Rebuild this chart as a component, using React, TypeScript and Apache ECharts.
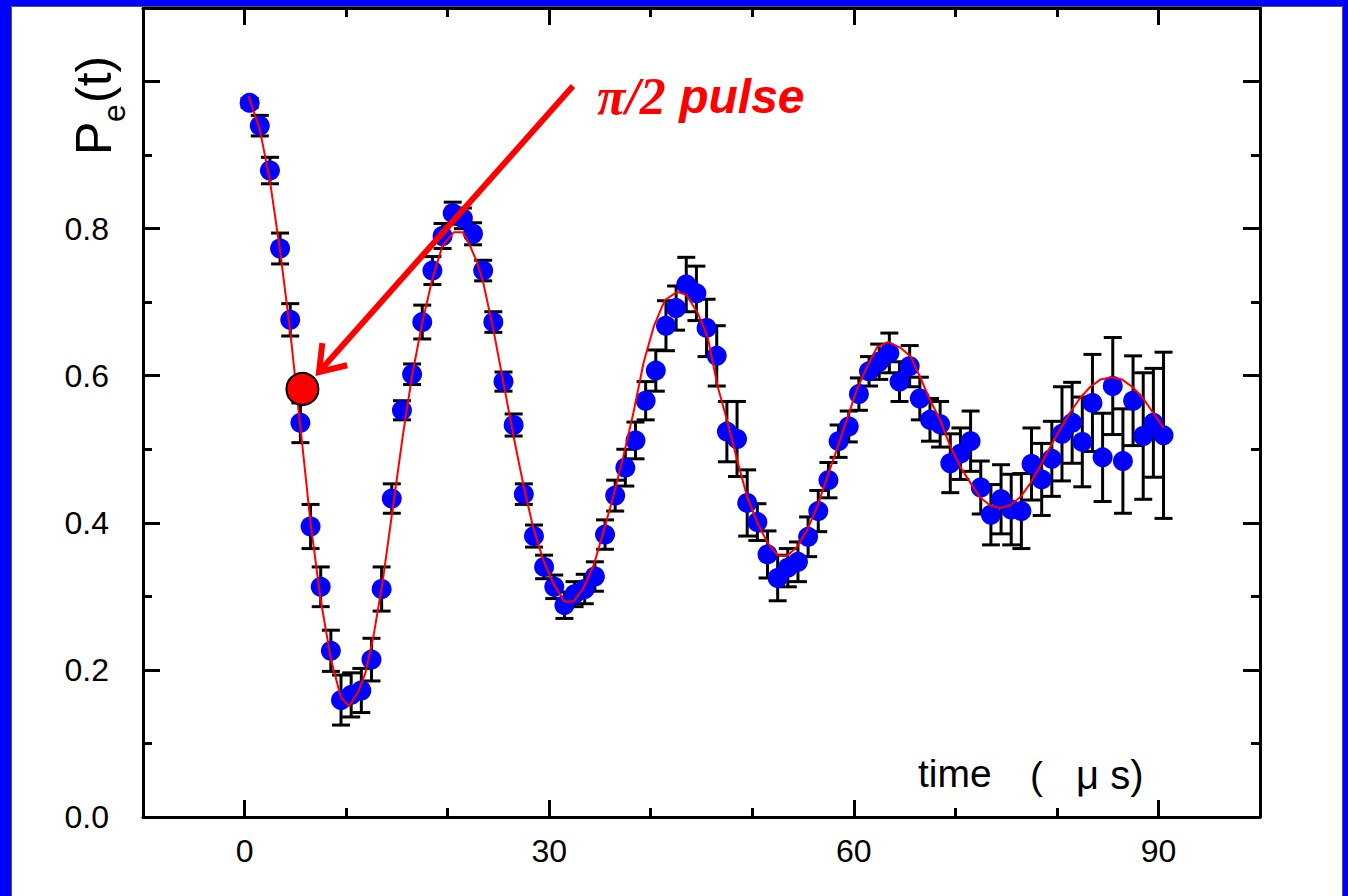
import React, { useEffect, useRef } from "react";
import * as echarts from "echarts";

// ---- data ----
const times = [
  0.5, 1.5, 2.5, 3.5, 4.5, 5.5, 6.5, 7.5, 8.5, 9.5,
  10.5, 11.5, 12.5, 13.5, 14.5, 15.5, 16.5, 17.5, 18.5, 19.5,
  20.5, 21.5, 22.5, 23.5, 24.5, 25.5, 26.5, 27.5, 28.5, 29.5,
  30.5, 31.5, 32.5, 33.5, 34.5, 35.5, 36.5, 37.5, 38.5, 39.5,
  40.5, 41.5, 42.5, 43.5, 44.5, 45.5, 46.5, 47.5, 48.5, 49.5,
  50.5, 51.5, 52.5, 53.5, 54.5, 55.5, 56.5, 57.5, 58.5, 59.5,
  60.5, 61.5, 62.5, 63.5, 64.5, 65.5, 66.5, 67.5, 68.5, 69.5,
  70.5, 71.5, 72.5, 73.5, 74.5, 75.5, 76.5, 77.5, 78.5, 79.5,
  80.5, 81.5, 82.5, 83.5, 84.5, 85.5, 86.5, 87.5, 88.5, 89.5,
  90.5,
];

const pe = [
  0.971, 0.940, 0.879, 0.773, 0.676, 0.536, 0.395, 0.313, 0.226, 0.159,
  0.166, 0.172, 0.214, 0.310, 0.433, 0.553, 0.602, 0.673, 0.743, 0.790,
  0.821, 0.814, 0.793, 0.743, 0.673, 0.592, 0.533, 0.439, 0.382, 0.340,
  0.313, 0.288, 0.303, 0.310, 0.327, 0.384, 0.437, 0.475, 0.512, 0.566,
  0.607, 0.668, 0.692, 0.724, 0.712, 0.665, 0.627, 0.524, 0.514, 0.427,
  0.401, 0.357, 0.325, 0.339, 0.347, 0.381, 0.416, 0.458, 0.511, 0.531,
  0.575, 0.606, 0.619, 0.631, 0.592, 0.613, 0.569, 0.540, 0.534, 0.481,
  0.494, 0.511, 0.448, 0.411, 0.432, 0.418, 0.416, 0.480, 0.459, 0.487,
  0.521, 0.536, 0.510, 0.563, 0.489, 0.586, 0.484, 0.566, 0.518, 0.536,
  0.519,
];

const peErr = [
  0.006, 0.014, 0.018, 0.021, 0.022, 0.027, 0.030, 0.027, 0.028, 0.034,
  0.030, 0.030, 0.029, 0.030, 0.020, 0.013, 0.014, 0.023, 0.019, 0.017,
  0.015, 0.014, 0.015, 0.014, 0.014, 0.013, 0.015, 0.014, 0.015, 0.016,
  0.016, 0.018, 0.017, 0.020, 0.020, 0.020, 0.021, 0.025, 0.025, 0.026,
  0.028, 0.034, 0.030, 0.037, 0.037, 0.039, 0.041, 0.041, 0.051, 0.045,
  0.025, 0.032, 0.031, 0.026, 0.027, 0.027, 0.028, 0.024, 0.022, 0.021,
  0.022, 0.020, 0.024, 0.027, 0.027, 0.028, 0.029, 0.029, 0.031, 0.040,
  0.035, 0.041, 0.036, 0.041, 0.047, 0.048, 0.051, 0.049, 0.049, 0.051,
  0.064, 0.055, 0.061, 0.066, 0.060, 0.066, 0.071, 0.061, 0.086, 0.074,
  0.113,
];

const fitTimes = [
  0.4, 1.5, 2.5, 3.5, 4.5, 5.5, 6.5, 7.5, 8.5, 9.5,
  10.3, 11.2, 11.9, 12.7, 13.6, 14.6, 15.6, 16.5, 17.5, 18.5,
  19.5, 20.6, 21.5, 22.2, 22.9, 23.5, 24.5, 25.5, 26.5, 27.5,
  28.4, 29.4, 30.4, 31.5, 32.4, 33.4, 34.4, 35.3, 36.3, 37.3,
  38.3, 39.3, 40.3, 41.4, 42.6, 43.5, 44.6, 45.6, 46.6, 47.5,
  48.5, 49.5, 50.5, 51.5, 52.5, 53.4, 54.4, 55.4, 56.4, 57.4,
  58.4, 59.4, 60.3, 61.3, 62.3, 63.4, 64.6, 65.6, 66.5, 67.5,
  68.5, 69.5, 70.5, 71.5, 72.4, 73.4, 74.4, 75.4, 76.4, 77.4,
  78.3, 79.3, 80.3, 81.3, 82.3, 83.3, 84.3, 85.4, 86.4, 87.4,
  88.4, 89.4, 90.5,
];

const fitValues = [
  0.980, 0.935, 0.865, 0.770, 0.660, 0.530, 0.400, 0.295, 0.215, 0.162,
  0.151, 0.170, 0.196, 0.246, 0.320, 0.420, 0.520, 0.600, 0.672, 0.732,
  0.777, 0.795, 0.795, 0.777, 0.754, 0.727, 0.663, 0.590, 0.517, 0.449,
  0.395, 0.350, 0.318, 0.293, 0.293, 0.312, 0.343, 0.386, 0.435, 0.490,
  0.550, 0.618, 0.667, 0.703, 0.714, 0.710, 0.686, 0.653, 0.585, 0.540,
  0.486, 0.435, 0.400, 0.373, 0.356, 0.355, 0.367, 0.390, 0.422, 0.463,
  0.503, 0.544, 0.581, 0.612, 0.639, 0.646, 0.638, 0.626, 0.599, 0.567,
  0.540, 0.504, 0.476, 0.454, 0.435, 0.424, 0.420, 0.424, 0.435, 0.454,
  0.476, 0.502, 0.527, 0.550, 0.570, 0.585, 0.595, 0.598, 0.595, 0.585,
  0.571, 0.551, 0.529,
];

const pulsePoint = [5.7, 0.582];

const xTickLabels = [0, 30, 60, 90];
const yTickLabels = [0, 0.2, 0.4, 0.6, 0.8];

const FONT = "'Liberation Sans', Arial, Helvetica, sans-serif";
const BLACK = "#000000";
const RED = "#ff0000";
const BLUE = "#0000ff";

function xFmt(v: number) {
  return xTickLabels.some((t) => Math.abs(t - v) < 1e-6) ? String(Math.round(v)) : "";
}
function yFmt(v: number) {
  return yTickLabels.some((t) => Math.abs(t - v) < 1e-6) ? v.toFixed(1) : "";
}

function buildOption() {
  const tickStyle = { color: BLACK, width: 3 };
  const xBase = {
    type: "value" as const,
    min: -10,
    max: 100,
    splitLine: { show: false },
  };
  const yBase = {
    type: "value" as const,
    min: 0,
    max: 1.1,
    splitLine: { show: false },
  };
  const hiddenLabel = { show: false };

  const xAxis = [
    {
      ...xBase,
      position: "bottom",
      interval: 10,
      axisLine: { show: true, onZero: false, lineStyle: { color: BLACK, width: 3 } },
      axisTick: { show: true, inside: true, length: 9, lineStyle: tickStyle },
      axisLabel: {
        show: true,
        formatter: xFmt,
        fontSize: 32,
        color: BLACK,
        fontFamily: FONT,
        margin: 18,
      },
    },
    {
      ...xBase,
      position: "bottom",
      interval: 10,
      axisLine: { show: false, onZero: false },
      axisTick: { show: true, inside: true, length: 17, lineStyle: tickStyle, customValues: xTickLabels },
      axisLabel: hiddenLabel,
    },
    {
      ...xBase,
      position: "top",
      interval: 10,
      axisLine: { show: true, onZero: false, lineStyle: { color: BLACK, width: 3 } },
      axisTick: { show: true, inside: true, length: 9, lineStyle: tickStyle },
      axisLabel: hiddenLabel,
    },
    {
      ...xBase,
      position: "top",
      interval: 10,
      axisLine: { show: false, onZero: false },
      axisTick: { show: true, inside: true, length: 17, lineStyle: tickStyle, customValues: xTickLabels },
      axisLabel: hiddenLabel,
    },
  ];

  const yAxis = [
    {
      ...yBase,
      position: "left",
      interval: 0.1,
      axisLine: { show: true, onZero: false, lineStyle: { color: BLACK, width: 3 } },
      axisTick: { show: true, inside: true, length: 9, lineStyle: tickStyle },
      axisLabel: {
        show: true,
        formatter: yFmt,
        fontSize: 32,
        color: BLACK,
        fontFamily: FONT,
        margin: 34,
      },
    },
    {
      ...yBase,
      position: "left",
      interval: 0.2,
      axisLine: { show: false, onZero: false },
      axisTick: { show: true, inside: true, length: 17, lineStyle: tickStyle },
      axisLabel: hiddenLabel,
    },
    {
      ...yBase,
      position: "right",
      interval: 0.1,
      axisLine: { show: true, onZero: false, lineStyle: { color: BLACK, width: 3 } },
      axisTick: { show: true, inside: true, length: 9, lineStyle: tickStyle },
      axisLabel: hiddenLabel,
    },
    {
      ...yBase,
      position: "right",
      interval: 0.2,
      axisLine: { show: false, onZero: false },
      axisTick: { show: true, inside: true, length: 17, lineStyle: tickStyle },
      axisLabel: hiddenLabel,
    },
  ];

  const points = times.map((t, i) => [t, pe[i], peErr[i]]);
  const fit = fitTimes.map((t, i) => [t, fitValues[i]]);

  // arrow annotation (pixel space of the slide)
  const tail = [573, 86];
  const tip = [319, 372];
  const dx = tail[0] - tip[0];
  const dy = tail[1] - tip[1];
  const len = Math.sqrt(dx * dx + dy * dy);
  const ux = dx / len;
  const uy = dy / len;
  const headLen = 29;
  const ang = (35 * Math.PI) / 180;
  const w1 = [
    tip[0] + headLen * (Math.cos(ang) * ux - Math.sin(ang) * uy),
    tip[1] + headLen * (Math.sin(ang) * ux + Math.cos(ang) * uy),
  ];
  const w2 = [
    tip[0] + headLen * (Math.cos(-ang) * ux - Math.sin(-ang) * uy),
    tip[1] + headLen * (Math.sin(-ang) * ux + Math.cos(-ang) * uy),
  ];

  const graphic = [
    // slide frame
    { type: "rect", z: 20, shape: { x: 0, y: 0, width: 11, height: 896 }, style: { fill: BLUE } },
    { type: "rect", z: 20, shape: { x: 0, y: 0, width: 1348, height: 6 }, style: { fill: BLUE } },
    { type: "rect", z: 20, shape: { x: 1343, y: 0, width: 5, height: 896 }, style: { fill: BLUE } },
    {
      type: "rect",
      z: 19,
      shape: { x: 11.5, y: 6.5, width: 1331, height: 900 },
      style: { fill: "none", stroke: "#555555", lineWidth: 1 },
    },
    // arrow
    {
      type: "line",
      z: 30,
      shape: { x1: tail[0], y1: tail[1], x2: tip[0] + ux * 2, y2: tip[1] + uy * 2 },
      style: { stroke: RED, lineWidth: 6 },
    },
    {
      type: "polyline",
      z: 30,
      shape: { points: [w1, tip, w2] },
      style: { stroke: RED, lineWidth: 6, fill: "none", lineJoin: "miter" },
    },
    // pi/2 pulse label
    {
      type: "text",
      z: 30,
      x: 597,
      y: 96,
      style: {
        text: "{a|\u03c0/2}{b| pulse}",
        verticalAlign: "middle",
        align: "left",
        fill: RED,
        rich: {
          a: {
            fontFamily: "'Liberation Serif', 'Times New Roman', serif",
            fontStyle: "italic",
            fontWeight: "bold",
            fontSize: 52,
            fill: RED,
            color: RED,
          },
          b: {
            fontFamily: FONT,
            fontStyle: "italic",
            fontWeight: "bold",
            fontSize: 48,
            fill: RED,
            color: RED,
          },
        },
      },
    },
    // y axis title Pe(t), rotated
    {
      type: "group",
      z: 30,
      x: 97,
      y: 105,
      rotation: Math.PI / 2,
      children: [
        {
          type: "text",
          x: -50,
          y: -3,
          style: { text: "P", fontSize: 50, fontFamily: FONT, fill: BLACK, align: "left", verticalAlign: "middle" },
        },
        {
          type: "text",
          x: -17,
          y: 17,
          style: { text: "e", fontSize: 32, fontFamily: FONT, fill: BLACK, align: "left", verticalAlign: "middle" },
        },
        {
          type: "text",
          x: 2,
          y: -3,
          style: { text: "(t)", fontSize: 50, fontFamily: FONT, fill: BLACK, align: "left", verticalAlign: "middle" },
        },
      ],
    },
    // x axis title
    {
      type: "text",
      z: 30,
      x: 918,
      y: 773,
      style: { text: "time", fontSize: 39, fontFamily: FONT, fill: BLACK, align: "left", verticalAlign: "middle" },
    },
    {
      type: "text",
      z: 30,
      x: 1030,
      y: 775,
      style: { text: "(", fontSize: 39, fontFamily: FONT, fill: BLACK, align: "left", verticalAlign: "middle" },
    },
    {
      type: "text",
      z: 30,
      x: 1076,
      y: 775,
      style: { text: "\u03bc s)", fontSize: 40, fontFamily: FONT, fill: BLACK, align: "left", verticalAlign: "middle" },
    },
  ];

  return {
    animation: false,
    backgroundColor: "#ffffff",
    grid: { left: 143, right: 88, top: 8, bottom: 79, containLabel: false },
    xAxis,
    yAxis,
    graphic,
    series: [
      {
        type: "custom",
        name: "errors",
        xAxisIndex: 0,
        yAxisIndex: 0,
        z: 2,
        encode: { x: 0, y: 1 },
        data: points,
        renderItem: (params: any, api: any) => {
          const x = api.value(0);
          const y = api.value(1);
          const e = api.value(2);
          const top = api.coord([x, y + e]);
          const bot = api.coord([x, y - e]);
          const hw = 9;
          const st = { stroke: BLACK, lineWidth: 3 };
          return {
            type: "group",
            children: [
              { type: "line", shape: { x1: top[0], y1: top[1], x2: bot[0], y2: bot[1] }, style: st },
              { type: "line", shape: { x1: top[0] - hw, y1: top[1], x2: top[0] + hw, y2: top[1] }, style: st },
              { type: "line", shape: { x1: bot[0] - hw, y1: bot[1], x2: bot[0] + hw, y2: bot[1] }, style: st },
            ],
          };
        },
      },
      {
        type: "scatter",
        name: "Pe",
        xAxisIndex: 0,
        yAxisIndex: 0,
        z: 3,
        symbol: "circle",
        symbolSize: 20,
        itemStyle: { color: BLUE, opacity: 1 },
        data: points.map((p) => [p[0], p[1]]),
      },
      {
        type: "line",
        name: "fit",
        xAxisIndex: 0,
        yAxisIndex: 0,
        z: 4,
        showSymbol: false,
        symbol: "none",
        smooth: false,
        lineStyle: { color: RED, width: 2 },
        data: fit,
      },
      {
        type: "scatter",
        name: "pulse",
        xAxisIndex: 0,
        yAxisIndex: 0,
        z: 5,
        symbol: "circle",
        symbolSize: 32,
        itemStyle: { color: RED, borderColor: BLACK, borderWidth: 2, opacity: 1 },
        data: [pulsePoint],
      },
    ],
  };
}

export default function App() {
  const ref = useRef<HTMLDivElement>(null);
  useEffect(() => {
    if (!ref.current) return;
    const chart = echarts.init(ref.current, null, { renderer: "svg" });
    chart.setOption(buildOption() as any);
    return () => {
      chart.dispose();
    };
  }, []);
  return (
    <div
      ref={ref}
      style={{ position: "absolute", left: 0, top: 0, width: 1348, height: 896, background: "#ffffff" }}
    />
  );
}
